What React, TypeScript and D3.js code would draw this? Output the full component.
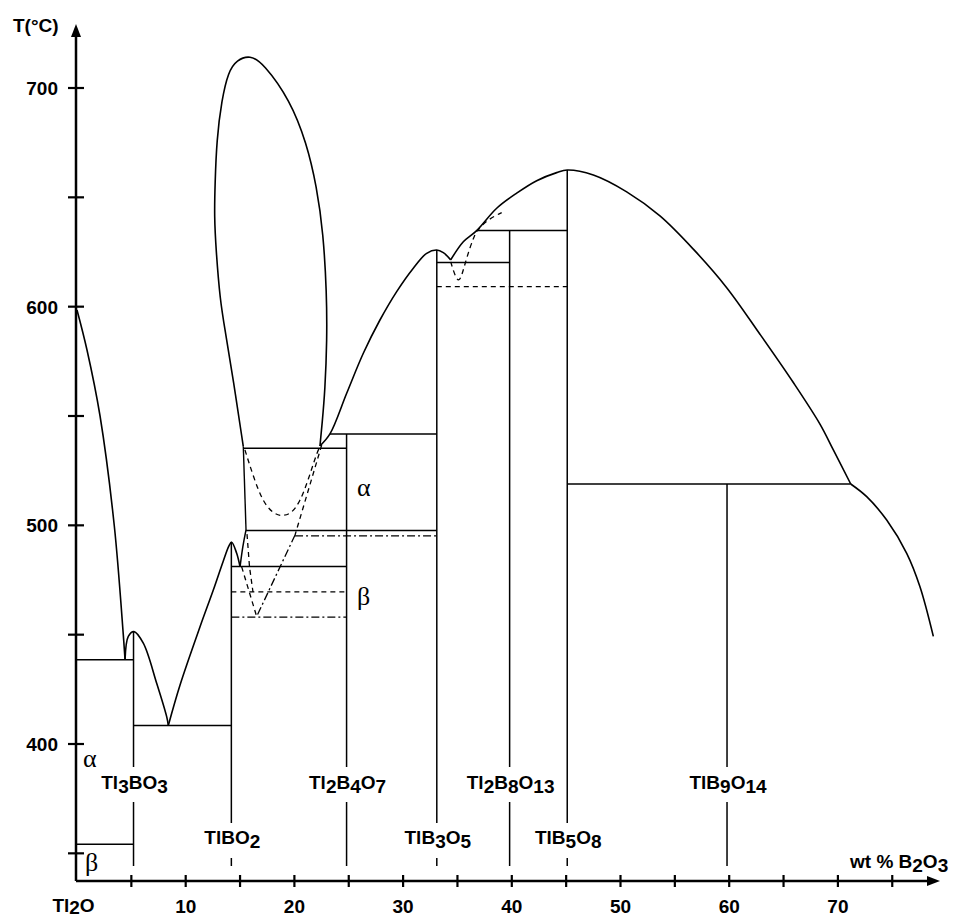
import { useRef, useEffect } from 'react';
import * as d3 from 'd3';

type Pt = [number, number];

// liquidus / boundary branches, [wt % B2O3, T °C]
const liqTl2O: Pt[] = [[0, 598.5], [0.92, 580.2], [2.12, 550], [3.43, 499.8], [4.26, 449.9], [4.42, 438.5]];
const liqTl3BO3: Pt[] = [[4.42, 438.5], [4.72, 449.2], [5.24, 451.4], [6.1, 446.1], [7.33, 427.8], [8.25, 412.5], [8.4, 408.5]];
const liqTlBO2: Pt[] = [[8.4, 408.5], [9.48, 427], [11.31, 453.5], [12.54, 470.4], [13.46, 483.7], [13.98, 490.6], [14.23, 492.3], [14.69, 487.2], [15.0, 481]];
const solidusCurve: Pt[] = [[15.0, 481], [15.24, 490.3], [15.55, 497.9]];
const solidusStraight: Pt[] = [[15.55, 497.9], [15.3, 536]];
const gap: Pt[] = [
  [15.3, 536], [14.38, 566.5], [13.62, 589.3], [13.16, 603], [12.79, 626], [12.63, 641.2], [12.7, 656.4],
  [12.85, 676.2], [13.31, 694.5], [13.92, 707.5], [14.69, 712.8], [15.92, 715.1], [17.14, 711.3], [19.6, 694.5],
  [21.13, 674.7], [22.05, 654.9], [22.66, 633.6], [22.97, 606.1], [23.0, 584.8], [22.82, 561.9], [22.54, 545.9], [22.35, 536.3],
];
const liqTlB3O5: Pt[] = [
  [22.35, 536.3], [23.27, 541.8], [24.81, 560.4], [26.34, 578.7], [27.87, 593.9], [29.41, 606.9], [30.94, 617.6],
  [32.17, 624.4], [33.09, 625.9], [33.7, 624.7], [34.38, 621.4],
];
const liqTlB5O8: Pt[] = [
  [34.38, 621.4], [35.54, 629.7], [36.77, 634.8], [38.61, 645], [40.45, 651.9], [42.29, 657.6], [44.13, 661.3],
  [45.1, 662.5], [47.5, 660.2], [50.57, 652.5], [53.63, 641.5], [56.7, 626.3], [59.77, 608.7], [62.83, 587.4],
  [65.9, 565.3], [68.35, 546.3], [69.58, 534.5], [71.18, 518.9],
];
const liqEnd: Pt[] = [[71.18, 518.9], [72.65, 513.1], [74.49, 502.4], [76.33, 487.2], [77.55, 471.9], [78.78, 449.2]];

// metastable branches
const dashedU: Pt[] = [
  [15.45, 534.5], [16.22, 522.3], [17.14, 510.1], [18.22, 504.8], [18.98, 504.3], [19.75, 505.5],
  [20.52, 510.8], [21.28, 520.8], [22.05, 533], [22.35, 536],
];
const dashedDiag: Pt[] = [[22.51, 536.7], [20.06, 495.6]];
const dashDotDiag: Pt[] = [[20.06, 495.6], [16.53, 458.3]];
const dashedLeftA: Pt[] = [[15.64, 496], [15.87, 481], [16.19, 469.5]];
const dashedLeftB: Pt[] = [[15.15, 481], [16.53, 458.3]];
const dashedV: Pt[] = [[34.38, 620.5], [35.08, 609.2], [35.54, 616.8], [36.15, 627.4], [36.77, 634.8]];
const dashedArc: Pt[] = [[36.77, 634.4], [37.69, 639.6], [39.07, 643]];

// invariant (horizontal) lines
const isoT = [354.2, 438.5, 408.5, 481.2, 469.6, 458, 497.6, 495.2, 535.3, 541.8, 620.2, 609.2, 634.8, 518.9];
const isoFrom = [0, 0, 5.2, 14.2, 14.2, 14.2, 15.55, 20.06, 15.3, 23.27, 33.1, 33.1, 36.77, 45.1];
const isoTo = [5.2, 5.2, 14.2, 24.8, 24.8, 24.8, 33.1, 33.1, 24.8, 33.1, 39.8, 45.1, 45.1, 71.18];
const isoKind = ['solid', 'solid', 'solid', 'solid', 'dashed', 'dashdot', 'solid', 'dashdot', 'solid', 'solid', 'solid', 'dashed', 'solid', 'solid'];

// compounds
const compounds = ['Tl3BO3', 'TlBO2', 'Tl2B4O7', 'TlB3O5', 'Tl2B8O13', 'TlB5O8', 'TlB9O14'];
const compoundWt = [5.2, 14.2, 24.8, 33.1, 39.8, 45.1, 59.8];
const compoundTop = [451.4, 492.3, 541.8, 625.9, 634.8, 662.5, 518.9];
const compoundRow = [0, 1, 0, 1, 0, 1, 0];

const yTicks = [350, 400, 450, 500, 550, 600, 650, 700];
const yLabels = [400, 500, 600, 700];
const xTicks = [5, 10, 15, 20, 25, 30, 35, 40, 45, 50, 55, 60, 65, 70, 75];
const xLabels = [10, 20, 30, 40, 50, 60, 70];

const SANS = '"Liberation Sans", Arial, Helvetica, sans-serif';
const SERIF = '"Liberation Serif", "Times New Roman", serif';

function formula(t: any, str: string, shift = 4) {
  let low = false;
  (str.match(/\d+|\D+/g) || []).forEach(p => {
    const sub = /\d/.test(p);
    const dy = sub && !low ? shift : !sub && low ? -shift : 0;
    low = sub;
    t.append('tspan').attr('dy', dy).text(p);
  });
}

export default function App() {
  const svgRef = useRef<SVGSVGElement>(null);

  useEffect(() => {
    const svg = d3.select(svgRef.current);
    svg.selectAll('*').remove();

    const x = d3.scaleLinear().domain([0, 70]).range([77, 837.9]);
    const y = d3.scaleLinear().domain([400, 700]).range([744, 88]);
    const smooth = d3.line<Pt>().x(d => x(d[0])).y(d => y(d[1])).curve(d3.curveCatmullRom.alpha(0.5));
    const loop = d3.line<Pt>().x(d => x(d[0])).y(d => y(d[1])).curve(d3.curveBasis);
    const straight = d3.line<Pt>().x(d => x(d[0])).y(d => y(d[1]));

    const ox = 76, oy = 881;
    const g = svg.append('g').attr('fill', 'none').attr('stroke', '#000');

    // curves
    [liqTl2O, liqTl3BO3, liqTlBO2, liqTlB3O5, liqTlB5O8, liqEnd].forEach(c =>
      g.append('path').attr('d', smooth(c)).attr('stroke-width', 1.6));
    g.append('path').attr('d', loop(gap)).attr('stroke-width', 1.6);
    g.append('path').attr('d', loop(solidusCurve)).attr('stroke-width', 1.5);
    g.append('path').attr('d', straight(solidusStraight)).attr('stroke-width', 1.4);

    const dash = '5,4', dashdot = '8,3,2,3';
    [dashedU, dashedArc, dashedV].forEach(c =>
      g.append('path').attr('d', loop(c)).attr('stroke-width', 1.3).attr('stroke-dasharray', dash));
    [dashedDiag, dashedLeftA, dashedLeftB].forEach(c =>
      g.append('path').attr('d', straight(c)).attr('stroke-width', 1.3).attr('stroke-dasharray', dash));
    g.append('path').attr('d', straight(dashDotDiag)).attr('stroke-width', 1.3).attr('stroke-dasharray', dashdot);

    // invariant lines
    isoT.forEach((t, i) => {
      g.append('line')
        .attr('x1', i < 2 ? ox : x(isoFrom[i])).attr('x2', x(isoTo[i]))
        .attr('y1', y(t)).attr('y2', y(t))
        .attr('stroke-width', isoKind[i] === 'solid' ? 1.5 : 1.3)
        .attr('stroke-dasharray', isoKind[i] === 'dashed' ? dash : isoKind[i] === 'dashdot' ? dashdot : null);
    });

    // compound lines + labels
    compounds.forEach((name, i) => {
      const cx = x(compoundWt[i]);
      const row = compoundRow[i];
      const breakTop = row ? 823 : 767, breakBot = row ? 858 : 802;
      g.append('line').attr('x1', cx).attr('x2', cx).attr('y1', y(compoundTop[i])).attr('y2', breakTop).attr('stroke-width', 1.5);
      g.append('line').attr('x1', cx).attr('x2', cx).attr('y1', breakBot).attr('y2', 866).attr('stroke-width', 1.5);
      const t = svg.append('text').attr('x', cx + 1).attr('y', row ? 844 : 789)
        .attr('text-anchor', 'middle').attr('font-family', SANS).attr('font-weight', 'bold').attr('font-size', 19);
      formula(t, name);
    });

    // axes
    const ax = svg.append('g').attr('stroke', '#000');
    ax.append('line').attr('x1', ox).attr('x2', ox).attr('y1', oy).attr('y2', 34).attr('stroke-width', 2.5);
    ax.append('path').attr('d', `M${ox},24L${ox - 5},37L${ox + 5},37Z`).attr('fill', '#000').attr('stroke', 'none');
    ax.append('line').attr('x1', ox).attr('x2', 930).attr('y1', oy).attr('y2', oy).attr('stroke-width', 2.5);
    ax.append('path').attr('d', `M940,${oy}L927,${oy - 5}L927,${oy + 5}Z`).attr('fill', '#000').attr('stroke', 'none');
    yTicks.forEach(v => ax.append('line').attr('x1', ox - 8).attr('x2', ox + 8).attr('y1', y(v)).attr('y2', y(v)).attr('stroke-width', 2.2));
    xTicks.forEach(v => ax.append('line').attr('x1', x(v)).attr('x2', x(v)).attr('y1', oy - 6).attr('y2', oy + 6).attr('stroke-width', 2.2));

    const txt = svg.append('g').attr('font-family', SANS).attr('font-weight', 'bold').attr('font-size', 19).attr('fill', '#000');
    yLabels.forEach(v => txt.append('text').attr('x', 58).attr('y', y(v) + 7).attr('text-anchor', 'end').text(v));
    xLabels.forEach(v => txt.append('text').attr('x', x(v)).attr('y', 913).attr('text-anchor', 'middle').text(v));
    formula(txt.append('text').attr('x', 73.5).attr('y', 912).attr('text-anchor', 'middle'), 'Tl2O', 2);
    txt.append('text').attr('x', 13).attr('y', 32).text('T(°C)');
    formula(txt.append('text').attr('x', 850).attr('y', 868), 'wt % B2O3');

    // phase labels
    const gr = svg.append('g').attr('font-family', SERIF).attr('font-size', 26).attr('fill', '#000');
    gr.append('text').attr('x', 83).attr('y', 767).text('α');
    gr.append('text').attr('x', 85).attr('y', 871).text('β');
    gr.append('text').attr('x', 357).attr('y', 496).text('α');
    gr.append('text').attr('x', 357).attr('y', 605).text('β');
  }, []);

  return (
    <svg ref={svgRef} width={957} height={919}
      style={{ position: 'absolute', left: 0, top: 0, background: '#fff' }} />
  );
}
